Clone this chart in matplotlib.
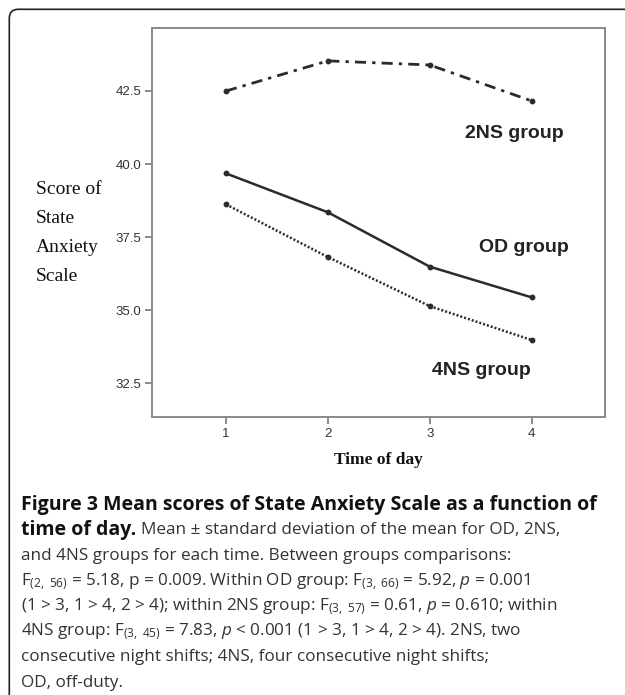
import matplotlib.pyplot as plt
from matplotlib.patches import FancyBboxPatch
from matplotlib.transforms import IdentityTransform

# mean State Anxiety Scale score per group at each time of day
times = [1, 2, 3, 4]
od_scores = [39.68, 38.35, 36.49, 35.44]
ns2_scores = [42.50, 43.53, 43.39, 42.16]
ns4_scores = [38.62, 36.82, 35.14, 33.98]

y_ticks = [32.5, 35.0, 37.5, 40.0, 42.5]

caption_title = "Figure 3 Mean scores of State Anxiety Scale as a function of"
caption_title_end = "time of day."
caption_lines = [
    "Mean ± standard deviation of the mean for OD, 2NS,",
    "and 4NS groups for each time. Between groups comparisons:",
    r"F$_{(2,\ 56)}$ = 5.18, p = 0.009. Within OD group: F$_{(3,\ 66)}$ = 5.92, $\mathit{p}$ = 0.001",
    r"(1 > 3, 1 > 4, 2 > 4); within 2NS group: F$_{(3,\ 57)}$ = 0.61, $\mathit{p}$ = 0.610; within",
    r"4NS group: F$_{(3,\ 45)}$ = 7.83, $\mathit{p}$ < 0.001 (1 > 3, 1 > 4, 2 > 4). 2NS, two",
    "consecutive night shifts; 4NS, four consecutive night shifts;",
    "OD, off-duty.",
]

plt.rcParams["mathtext.fontset"] = "custom"
plt.rcParams["mathtext.rm"] = "Open Sans"
plt.rcParams["mathtext.it"] = "Open Sans:italic"
plt.rcParams["mathtext.bf"] = "Open Sans:bold"

fig = plt.figure(figsize=(6.25, 6.95), dpi=100)
ax = fig.add_axes([0.2437, 0.4004, 0.7243, 0.5589])

line_color = "#2b2b2b"
ax.plot(times, ns2_scores, color=line_color, lw=2.0, dashes=(4, 2.2, 1.2, 2.2),
        marker="o", ms=3.2)
ax.plot(times, od_scores, color=line_color, lw=1.8, marker="o", ms=3.2)
ax.plot(times, ns4_scores, color=line_color, lw=1.8, dashes=(0.8, 0.8),
        marker="o", ms=3.2)

ax.set_xlim(0.277, 4.72)
ax.set_ylim(31.357, 44.645)
ax.set_xticks(times)
ax.set_yticks(y_ticks)
ax.set_yticklabels([f"{v:.1f}" for v in y_ticks])

for spine in ax.spines.values():
    spine.set_color("#8a8a8a")
    spine.set_linewidth(1.4)
ax.tick_params(direction="out", length=5, width=1.4, color="#8a8a8a",
               labelsize=9.5, labelcolor="#333333", pad=3)
for lab in ax.get_xticklabels() + ax.get_yticklabels():
    lab.set_fontfamily("Liberation Sans")

# group names next to their curves
label_font = dict(fontsize=14, fontweight="bold", family="Liberation Sans",
                  color="#222222", va="center", ha="left")
ax.text(3.345, 41.06, "2NS group", **label_font)
ax.text(3.48, 37.16, "OD group", **label_font)
ax.text(3.02, 32.95, "4NS group", **label_font)

fig.text(0.0576, 1 - 233 / 695, "Score of\nState\nAnxiety\nScale",
         family="Liberation Serif", fontsize=14, linespacing=1.9,
         va="center", ha="left", color="#111111")
fig.text(0.6056, 1 - 460 / 695, "Time of day", family="Liberation Serif",
         fontsize=12.5, fontweight="bold", ha="center", va="center",
         color="#111111")

# caption below the chart: bold title, then the plain description
x0 = 21 / 625
y0 = 505
dy = 25.4
bold_font = dict(family="Open Sans", fontweight="bold", fontsize=14,
                 color="#111111", ha="left", va="center")
fig.text(x0, 1 - y0 / 695, caption_title, **bold_font)
title_end = fig.text(x0, 1 - (y0 + dy) / 695, caption_title_end, **bold_font)

renderer = fig.canvas.get_renderer()
end_px = title_end.get_window_extent(renderer).x1
fig.text((end_px + 5) / 625, 1 - (y0 + dy) / 695, caption_lines[0],
         family="Open Sans", fontsize=12.3, color="#333333",
         ha="left", va="center")
for i, line in enumerate(caption_lines[1:], start=2):
    fig.text(x0, 1 - (y0 + i * dy) / 695, line, family="Open Sans",
             fontsize=12.3, color="#333333", ha="left", va="center")

# rounded frame open at the right and bottom
frame = FancyBboxPatch((9.3, -30), 700, 695 - 9.3 + 30,
                       boxstyle="round,pad=0,rounding_size=9",
                       transform=IdentityTransform(), fill=False,
                       edgecolor="#222222", lw=1.2)
fig.add_artist(frame)

fig.savefig("out.png", dpi=100)
